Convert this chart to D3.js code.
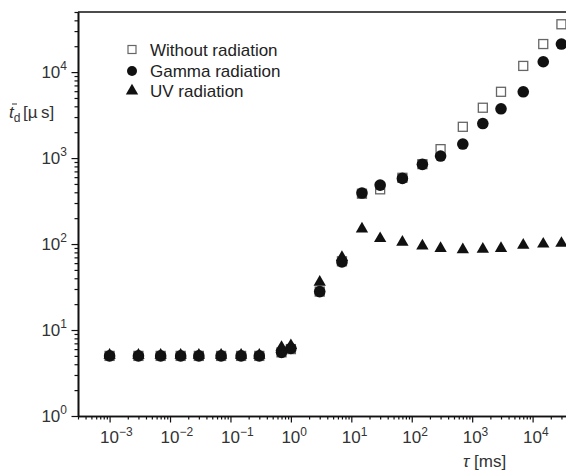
<!DOCTYPE html>
<html>
<head>
<meta charset="utf-8">
<script src="https://cdn.jsdelivr.net/npm/d3@7"></script>
<style>
  html, body { margin: 0; padding: 0; background: #fff; overflow: hidden; }
  svg { display: block; font-family: "Liberation Sans", Arial, sans-serif; }
  .axis path, .axis line { stroke: #111; }
  .axis path { stroke-width: 1.6; }
  .axis line { stroke-width: 1.2; }
</style>
</head>
<body>
<script>
// delay time tau [ms]
const tau = [0.001, 0.003, 0.007, 0.015, 0.03, 0.07, 0.15, 0.3, 0.7, 1,
  3, 7, 15, 30, 70, 150, 300, 700, 1500, 3000, 7000, 15000, 30000];

// mean delay t_d [us] per series
const withoutRad = [5, 5, 5, 5, 5, 5, 5, 5, 5.5, 6,
  28, 63, 385, 433, 590, 850, 1270, 2310, 3850, 5900, 11800, 21200, 36000];
const gammaRad = [5, 5, 5, 5, 5, 5, 5, 5, 5.5, 6.1,
  28, 62, 392, 485, 580, 845, 1055, 1455, 2520, 3740, 5900, 13200, 21200];
const uvRad = [5.1, 5.1, 5.1, 5.1, 5.1, 5.1, 5.1, 5.1, 6.3, 6.6,
  36, 70, 150, 116, 105, 95, 89, 86, 87, 89, 97, 100, 102];

const seriesNames = ["Without radiation", "Gamma radiation", "UV radiation"];
const xMajor = [1e-3, 1e-2, 1e-1, 1, 1e1, 1e2, 1e3, 1e4];
const yMajor = [1, 10, 100, 1e3, 1e4];

const width = 566, height = 470;
const svg = d3.select("body").append("svg")
  .attr("width", width).attr("height", height);

// scales (x axis runs past the right edge in the original)
const plotLeft = 78, plotBottom = 416, plotTop = 12;
const xDecade = 60.43;
const xDomain = [3e-4, 1e5];
const x = d3.scaleLog().domain(xDomain)
  .range([plotLeft, plotLeft + (Math.log10(xDomain[1]) - Math.log10(xDomain[0])) * xDecade]);
const y = d3.scaleLog().domain([1, 5e4]).range([plotBottom, plotTop]);

// minor ticks 2..9 in each decade
function minors(domain) {
  const out = [];
  for (let e = -5; e <= 5; e++) {
    for (let m = 2; m <= 9; m++) {
      const v = m * Math.pow(10, e);
      if (v >= domain[0] && v <= domain[1]) out.push(v);
    }
  }
  return out;
}

// top frame line
svg.append("line")
  .attr("x1", plotLeft).attr("x2", x.range()[1])
  .attr("y1", y(5e4)).attr("y2", y(5e4))
  .attr("stroke", "#111").attr("stroke-width", 1.6);

// x axis
svg.append("g").attr("class", "axis")
  .attr("transform", `translate(0,${plotBottom})`)
  .call(d3.axisBottom(x).tickValues(minors(xDomain)).tickSize(3.5).tickFormat("").tickSizeOuter(0));
svg.append("g").attr("class", "axis")
  .attr("transform", `translate(0,${plotBottom})`)
  .call(d3.axisBottom(x).tickValues(xMajor).tickSize(6.5).tickFormat("").tickSizeOuter(0));

// y axis
svg.append("g").attr("class", "axis")
  .attr("transform", `translate(${plotLeft},0)`)
  .call(d3.axisLeft(y).tickValues(minors(y.domain())).tickSize(3.5).tickFormat("").tickSizeOuter(0));
svg.append("g").attr("class", "axis")
  .attr("transform", `translate(${plotLeft},0)`)
  .call(d3.axisLeft(y).tickValues(yMajor).tickSize(6.5).tickFormat("").tickSizeOuter(0));

// tick labels with superscript exponents ("10" centred on the tick)
const labelColor = "#333";
const fs = 17;
xMajor.forEach((v) => {
  const t = svg.append("text")
    .attr("x", x(v) - 9.5).attr("y", 443)
    .attr("font-size", fs).attr("fill", labelColor);
  t.append("tspan").text("10");
  t.append("tspan").attr("dy", -7.5).attr("font-size", 12)
    .text(String(Math.round(Math.log10(v))).replace("-", "\u2212"));
});
yMajor.forEach((v) => {
  const t = svg.append("text")
    .attr("x", 67).attr("y", y(v) + 5.5)
    .attr("text-anchor", "end")
    .attr("font-size", fs).attr("fill", labelColor);
  t.append("tspan").text("10");
  t.append("tspan").attr("dy", -7.5).attr("font-size", 12)
    .text(Math.round(Math.log10(v)));
});

// axis titles
const yl = svg.append("text").attr("x", 9).attr("y", 118)
  .attr("font-size", fs).attr("fill", labelColor);
yl.append("tspan").attr("font-style", "italic").text("t");
yl.append("tspan").attr("dy", 4).attr("font-size", 12).text("d");
yl.append("tspan").attr("dy", -4).attr("x", 23).text("[\u00b5\u2009s]");
svg.append("line")
  .attr("x1", 12).attr("x2", 17).attr("y1", 104).attr("y2", 104)
  .attr("stroke", labelColor).attr("stroke-width", 1);

const xl = svg.append("text").attr("x", 463).attr("y", 467)
  .attr("font-size", fs).attr("fill", labelColor);
xl.append("tspan").attr("font-style", "italic").text("\u03c4");
xl.append("tspan").text(" [ms]");

// markers
const sq = 9, rad = 5.8;
const tri = d3.symbol().type(d3.symbolTriangle).size(66);

svg.append("g").selectAll("rect")
  .data(tau.map((t, i) => [t, withoutRad[i]]))
  .join("rect")
  .attr("x", (d) => x(d[0]) - sq / 2).attr("y", (d) => y(d[1]) - sq / 2)
  .attr("width", sq).attr("height", sq)
  .attr("fill", "#fff").attr("stroke", "#666").attr("stroke-width", 1.3);

svg.append("g").selectAll("circle")
  .data(tau.map((t, i) => [t, gammaRad[i]]))
  .join("circle")
  .attr("cx", (d) => x(d[0])).attr("cy", (d) => y(d[1]))
  .attr("r", rad).attr("fill", "#111");

svg.append("g").selectAll("path")
  .data(tau.map((t, i) => [t, uvRad[i]]))
  .join("path")
  .attr("d", tri)
  .attr("transform", (d) => `translate(${x(d[0])},${y(d[1])})`)
  .attr("fill", "#111");

// legend
const legend = svg.append("g");
const ly = [50, 71, 91];
legend.append("rect").attr("x", 128).attr("y", ly[0] - 4.5)
  .attr("width", 8).attr("height", 8)
  .attr("fill", "#fff").attr("stroke", "#666").attr("stroke-width", 1.2);
legend.append("circle").attr("cx", 132).attr("cy", ly[1]).attr("r", 5).attr("fill", "#111");
legend.append("path").attr("d", tri)
  .attr("transform", `translate(132,${ly[2]})`).attr("fill", "#111");
seriesNames.forEach((name, i) => {
  legend.append("text").attr("x", 150).attr("y", ly[i] + 6)
    .attr("font-size", fs).attr("fill", "#222").text(name);
});
</script>
</body>
</html>
